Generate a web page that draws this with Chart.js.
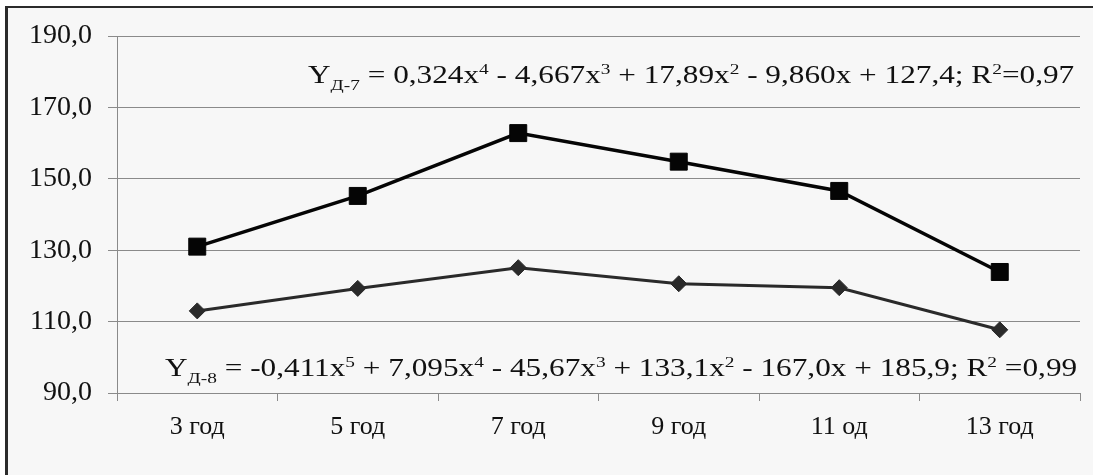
<!DOCTYPE html>
<html lang="ru">
<head>
  <meta charset="UTF-8">
  <title>Y Д-7 / Д-8</title>
  <script src="https://cdn.jsdelivr.net/npm/chart.js"></script>
  <style>
    html, body {
      margin: 0;
      padding: 0;
      background: #fff;
      overflow: hidden;
    }

    .chart-box {
      position: relative;
      width: 1093px;
      height: 475px;
    }
  </style>
</head>
<body>
  <div class="chart-box">
    <canvas id="ageChart"></canvas>
  </div>

  <script>
    // данные
    const labels = ['3 год', '5 год', '7 год', '9 год', '11 од', '13 год'];
    const d7Values = [131.0, 145.2, 162.8, 154.8, 146.6, 123.9];
    const d8Values = [113.0, 119.3, 125.1, 120.6, 119.5, 107.7];

    const yMin = 90;
    const yMax = 190;
    const yStep = 20;

    // уравнения тренда: [текст, вид] — '' обычный, 'sub' индекс, 'sup' степень
    const eqD7 = [
      ['Y', ''], ['Д-7', 'sub'], [' = 0,324x', ''], ['4', 'sup'],
      [' - 4,667x', ''], ['3', 'sup'], [' + 17,89x', ''], ['2', 'sup'],
      [' - 9,860x + 127,4; R', ''], ['2', 'sup'], ['=0,97', '']
    ];
    const eqD8 = [
      ['Y', ''], ['Д-8', 'sub'], [' = -0,411x', ''], ['5', 'sup'],
      [' + 7,095x', ''], ['4', 'sup'], [' - 45,67x', ''], ['3', 'sup'],
      [' + 133,1x', ''], ['2', 'sup'], [' - 167,0x + 185,9; R', ''], ['2', 'sup'], [' =0,99', '']
    ];

    const SERIF = '"Liberation Serif", "Times New Roman", serif';

    function drawRich(ctx, parts, x, y, size, sx) {
      ctx.save();
      ctx.translate(x, y);
      ctx.scale(sx, 1);
      ctx.fillStyle = '#111';
      ctx.textBaseline = 'alphabetic';
      ctx.textAlign = 'left';
      let cx = 0;
      for (const [t, kind] of parts) {
        const fs = kind ? size * 0.62 : size;
        ctx.font = fs + 'px ' + SERIF;
        const dy = kind === 'sub' ? size * 0.26 : kind === 'sup' ? -size * 0.36 : 0;
        ctx.fillText(t, cx, dy);
        cx += ctx.measureText(t).width;
      }
      ctx.restore();
    }

    const frame = {
      id: 'frame',
      beforeDraw(chart) {
        const ctx = chart.ctx;
        ctx.save();
        ctx.fillStyle = '#fff';
        ctx.fillRect(0, 0, chart.width, chart.height);
        ctx.fillStyle = '#f7f7f7';
        ctx.fillRect(6, 6, chart.width - 6, chart.height - 6);
        ctx.fillStyle = '#2b2b2b';
        ctx.fillRect(5, 6, 3, chart.height - 6);
        ctx.fillRect(5, 6, chart.width - 5, 2);
        ctx.restore();
      }
    };

    const equations = {
      id: 'equations',
      afterDatasetsDraw(chart) {
        const ctx = chart.ctx;
        const area = chart.chartArea;
        drawRich(ctx, eqD7, area.left + 191, 83, 25, 1.25);
        drawRich(ctx, eqD8, area.left + 48, 376, 25, 1.25);
      }
    };

    window.onload = () => {
      new Chart(document.getElementById('ageChart').getContext('2d'), {
        type: 'line',
        data: {
          labels: labels,
          datasets: [
            {
              label: 'Д-7',
              data: d7Values,
              borderColor: '#050505',
              backgroundColor: '#050505',
              borderWidth: 3.5,
              pointStyle: 'rect',
              pointRadius: 12,
              pointBorderWidth: 1,
              tension: 0,
              fill: false
            },
            {
              label: 'Д-8',
              data: d8Values,
              borderColor: '#2a2a2a',
              backgroundColor: '#2a2a2a',
              borderWidth: 3,
              pointStyle: 'rectRot',
              pointRadius: 8,
              pointBorderWidth: 1,
              tension: 0,
              fill: false
            }
          ]
        },
        options: {
          responsive: true,
          maintainAspectRatio: false,
          animation: false,
          layout: {
            padding: { left: 8, right: 1, top: 36, bottom: 0 }
          },
          plugins: {
            legend: { display: false },
            tooltip: { enabled: false }
          },
          scales: {
            x: {
              offset: true,
              border: { color: '#8a8a8a', width: 1 },
              grid: {
                offset: true,
                drawOnChartArea: false,
                drawTicks: true,
                tickLength: 8,
                color: '#8a8a8a'
              },
              ticks: {
                color: '#111',
                padding: 11,
                maxRotation: 0,
                font: { family: SERIF, size: 26 }
              },
              afterFit(scale) {
                scale.height = 82;
              }
            },
            y: {
              min: yMin,
              max: yMax,
              border: { color: '#8a8a8a', width: 1 },
              grid: {
                color: '#8a8a8a',
                tickLength: 9
              },
              ticks: {
                stepSize: yStep,
                color: '#111',
                padding: 16,
                font: { family: SERIF, size: 28 },
                callback: v => v.toFixed(1).replace('.', ',')
              },
              afterFit(scale) {
                scale.width = 109;
              }
            }
          }
        },
        plugins: [frame, equations]
      });
    };
  </script>
</body>
</html>
